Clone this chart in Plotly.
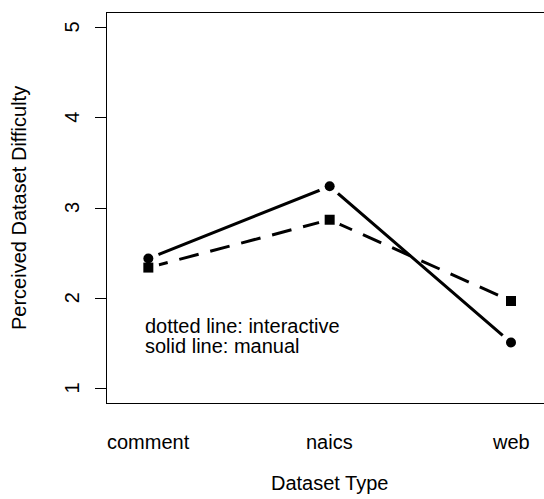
import plotly.graph_objects as go

# Mean perceived difficulty per dataset type, by labelling mode
categories = ["comment", "naics", "web"]
manual = [2.44, 3.24, 1.51]        # solid line, filled circles
interactive = [2.34, 2.87, 1.97]   # dashed line, filled squares
y_ticks = [1, 2, 3, 4, 5]
y_tick_text = ["1", "2", "3", "4", "5"]

x_pos = list(range(1, len(categories) + 1))

FONT = "Liberation Sans, Arial, Helvetica, sans-serif"
W, H = 544, 499
M_L, M_R, M_T, M_B = 107, 0, 13, 96
PLOT_W = W - M_L - M_R
PLOT_H = H - M_T - M_B
TXT = dict(family=FONT, size=20, color="black")

fig = go.Figure()

# connecting lines
fig.add_trace(go.Scatter(
    x=x_pos, y=manual, mode="lines",
    line=dict(color="black", width=3),
    showlegend=False, hoverinfo="skip"))
fig.add_trace(go.Scatter(
    x=x_pos, y=interactive, mode="lines",
    line=dict(color="black", width=3, dash="20px,12px"),
    showlegend=False, hoverinfo="skip"))

# white gaps where the lines meet the points
for ys in (manual, interactive):
    fig.add_trace(go.Scatter(
        x=x_pos, y=ys, mode="markers",
        marker=dict(symbol="circle", size=22, color="white", line=dict(width=0)),
        showlegend=False, hoverinfo="skip"))

# point symbols
fig.add_trace(go.Scatter(
    x=x_pos, y=manual, mode="markers", name="manual",
    marker=dict(symbol="circle", size=10, color="black", line=dict(width=0)),
    showlegend=False))
fig.add_trace(go.Scatter(
    x=x_pos, y=interactive, mode="markers", name="interactive",
    marker=dict(symbol="square", size=10, color="black", line=dict(width=0)),
    showlegend=False))

annotations = []
# category labels under the plot
for xv, lab in zip(x_pos, categories):
    annotations.append(dict(
        text=lab, xref="x", yref="paper", x=xv, y=-39 / PLOT_H,
        xanchor="center", yanchor="middle", showarrow=False, font=TXT))
# rotated y tick labels
for yv, lab in zip(y_ticks, y_tick_text):
    annotations.append(dict(
        text=lab, xref="paper", yref="y", x=(72 - M_L) / PLOT_W, y=yv,
        xanchor="center", yanchor="middle", textangle=-90,
        showarrow=False, font=TXT))
annotations += [
    dict(text="Dataset Type", xref="x", yref="paper",
         x=2, y=-80 / PLOT_H, xanchor="center", yanchor="middle",
         showarrow=False, font=TXT),
    dict(text="Perceived Dataset Difficulty", xref="paper", yref="y",
         x=(19 - M_L) / PLOT_W, y=3, xanchor="center", yanchor="middle",
         textangle=-90, showarrow=False, font=TXT),
    dict(text="dotted line: interactive", xref="x", yref="y",
         x=0.97, y=1.69, xanchor="left", yanchor="middle",
         showarrow=False, font=TXT),
    dict(text="solid line: manual", xref="x", yref="y",
         x=0.97, y=1.47, xanchor="left", yanchor="middle",
         showarrow=False, font=TXT),
]

fig.update_layout(
    width=W, height=H,
    margin=dict(l=M_L, r=M_R, t=M_T, b=M_B, pad=0),
    paper_bgcolor="white", plot_bgcolor="white",
    font=TXT,
    showlegend=False,
    xaxis=dict(
        range=[0.772, 3.182],
        tickvals=x_pos, showticklabels=False,
        ticks="", showgrid=False, zeroline=False,
        showline=True, linecolor="black", linewidth=1, mirror=True,
    ),
    yaxis=dict(
        range=[0.84, 5.16],
        tickvals=y_ticks, showticklabels=False,
        ticks="outside", ticklen=11, tickwidth=1, tickcolor="black",
        showgrid=False, zeroline=False,
        showline=True, linecolor="black", linewidth=1, mirror=False,
    ),
    annotations=annotations,
)

fig.write_html("out.html")
